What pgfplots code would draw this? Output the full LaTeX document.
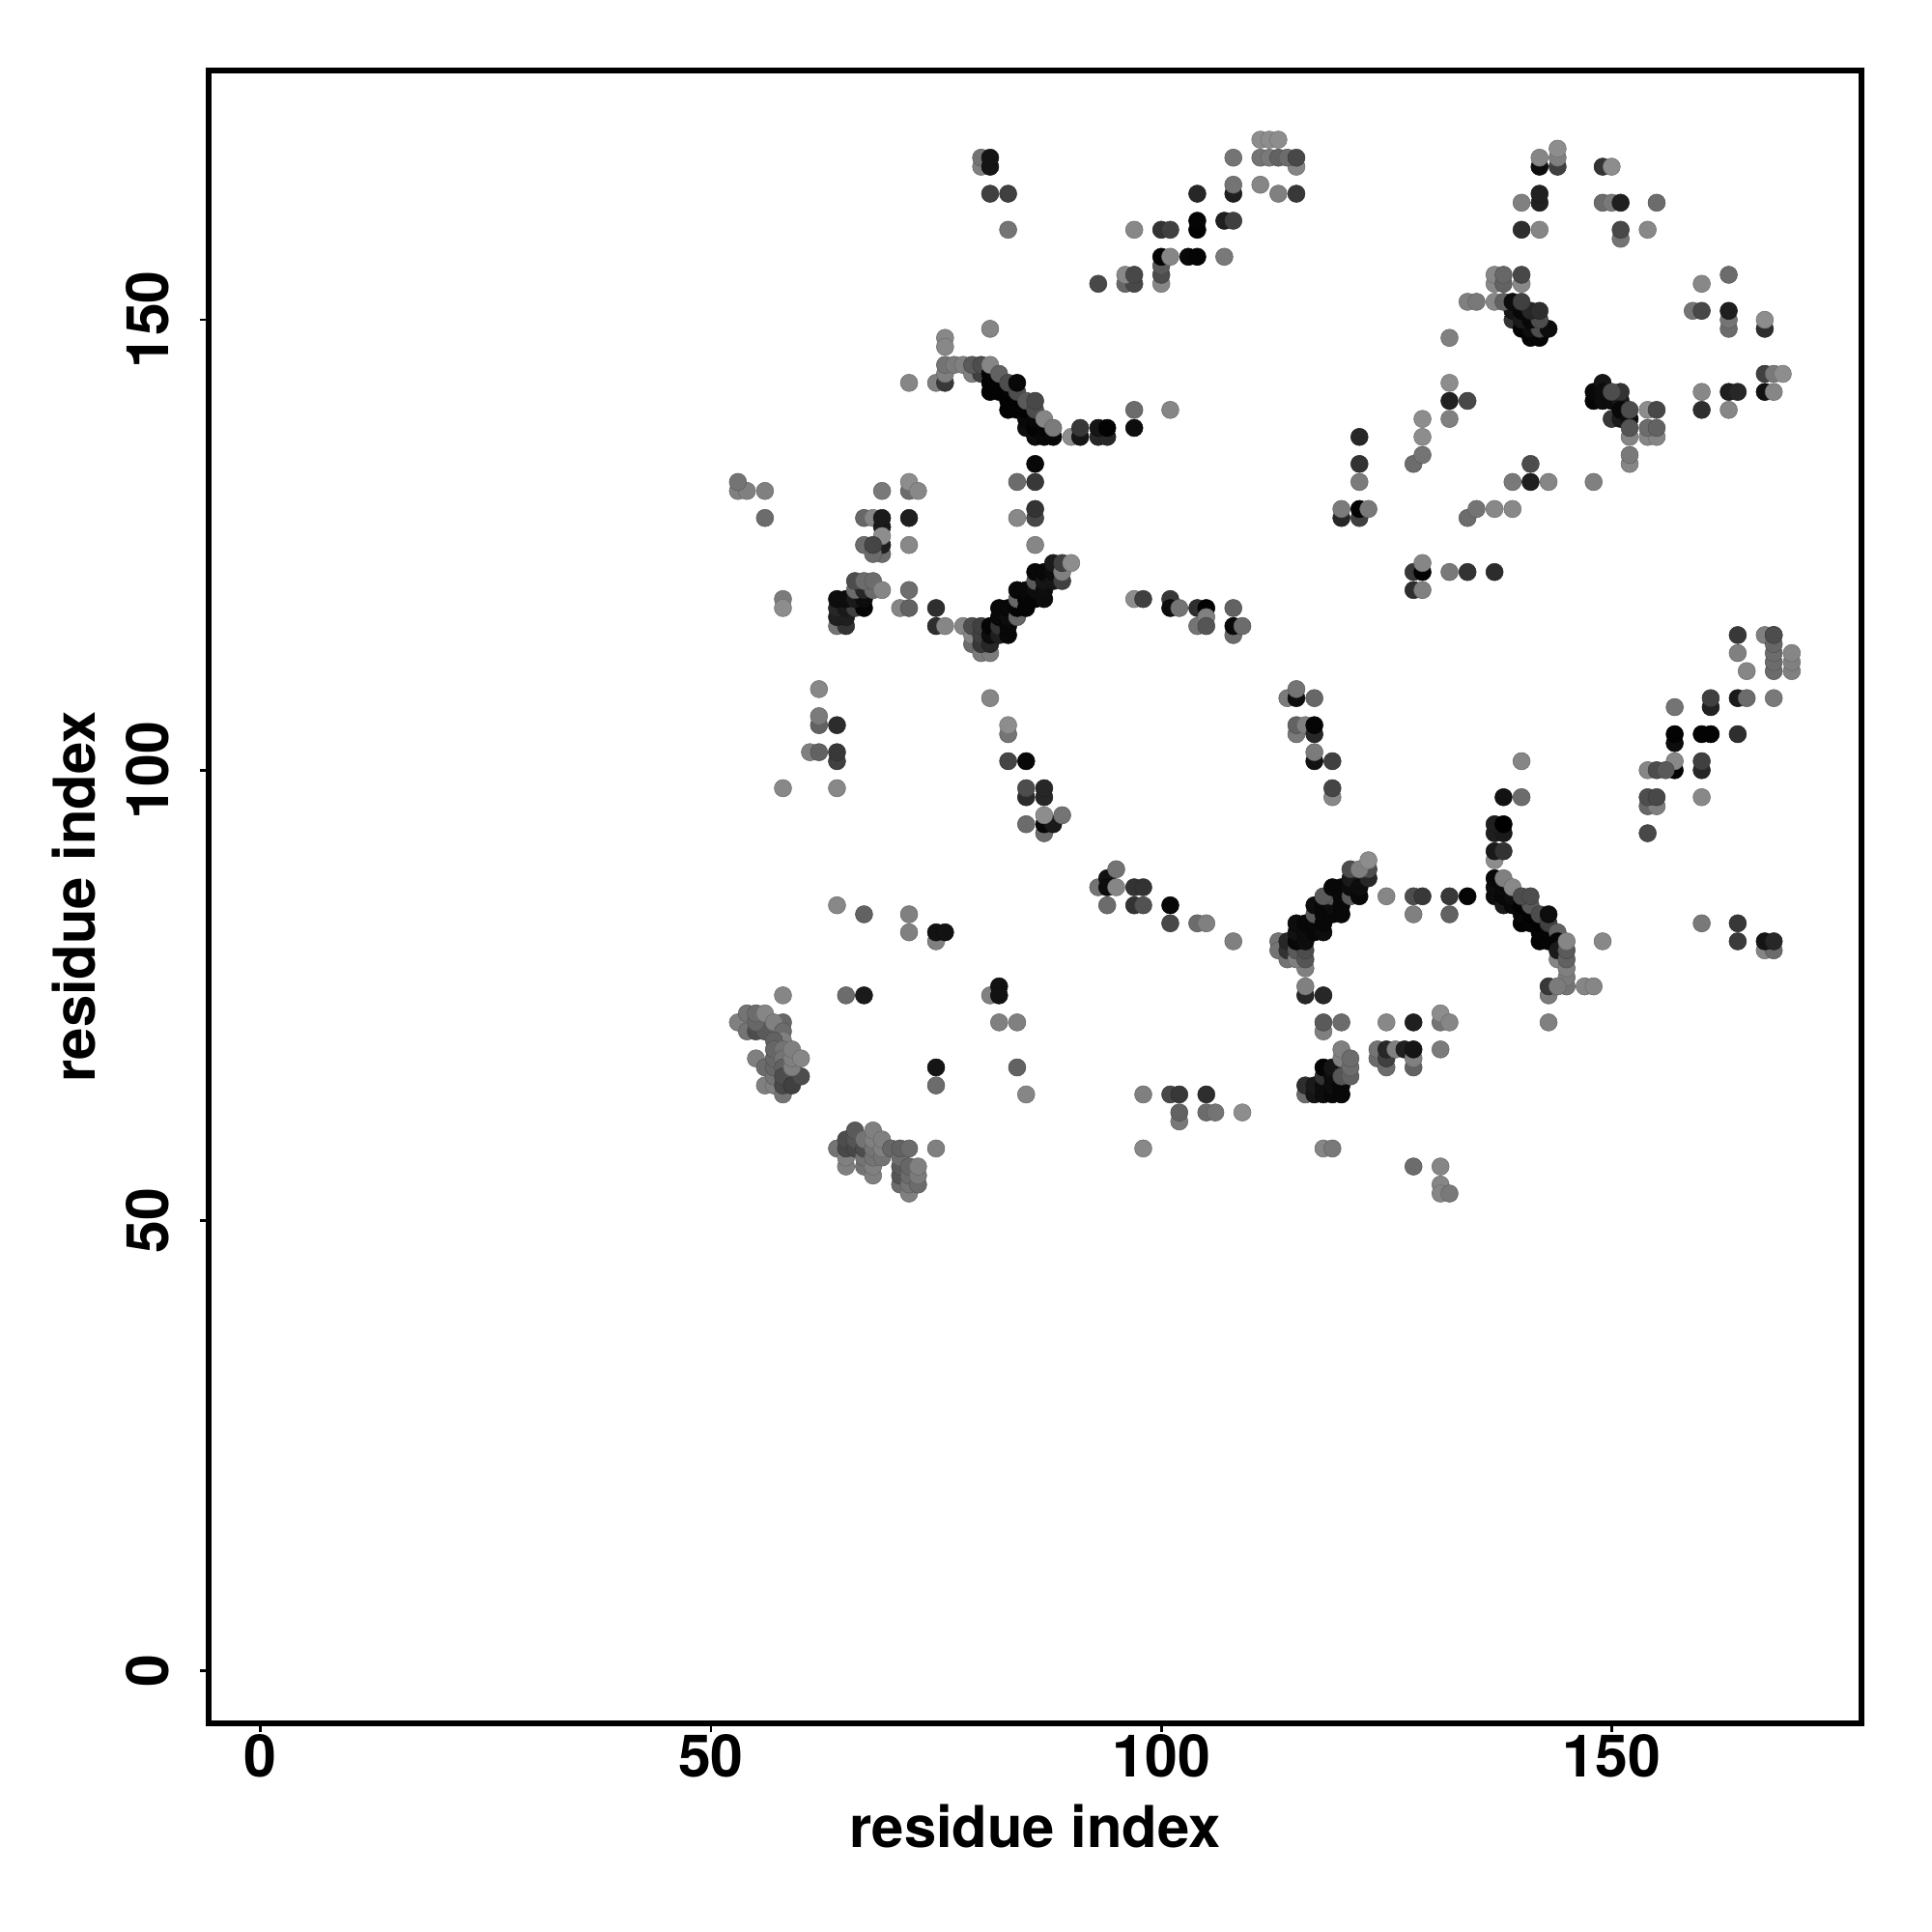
\documentclass[border=0pt]{standalone}
\usepackage{fontspec}
\setmainfont{TeX Gyre Heros}
\usepackage{pgfplots}
\pgfplotsset{compat=1.18}
\begin{document}
\begin{tikzpicture}[x=1cm,y=1cm]
\path[use as bounding box] (0,0) rectangle (20,20);
\begin{axis}[
  at={(2.16cm,2.16cm)},anchor=south west,
  width=17.11cm,height=17.11cm,scale only axis,
  xmin=-5.76,xmax=177.74,ymin=-5.82,ymax=177.68,
  xtick={0,50,100,150},ytick={0,50,100,150},
  axis line style={line width=1.65pt},
  tick style={line width=0.8pt,black},
  tick align=outside,major tick length=2.7pt,
  xtick pos=bottom,ytick pos=left,
  /pgf/number format/assume math mode=true,
  tick label style={font=\bfseries\fontsize{17.3}{20}\selectfont},
  yticklabel style={rotate=90,anchor=south,yshift=5.4pt},
  xticklabel style={anchor=north,yshift=3.1pt},
  xlabel={\bfseries\fontsize{17}{20}\selectfont residue index},
  ylabel={\bfseries\fontsize{17}{20}\selectfont residue index},
  xlabel style={at={(axis description cs:0.5,0)},anchor=base,yshift=-36.5pt},
  ylabel style={at={(axis description cs:0,0.5)},anchor=base,rotate=0,yshift=33.4pt},
  colormap={bw}{gray(0cm)=(0); gray(1cm)=(1)},
  point meta min=0,point meta max=1,
  clip=true,
]
\addplot[scatter,only marks,mark=*,mark size=2.55pt,line width=0.15pt,point meta=explicit] coordinates {
% lower left singles
(64,85)[.53](67,84)[.38](72,84)[.5](72,82)[.5](75,81)[.5](75,82)[.07](76,82)[.07]
(58,75)[.52](65,75)[.42](67,75)[.1](81,75)[.5](82,76)[.07](82,75)[.07](82,72)[.5](84,72)[.5]
(75,67)[.08](75,65)[.42](84,67)[.38](85,64)[.52]
% cluster 1
(53,72)[.5](54,71)[.45](55,71)[.3](56,71)[.35](54,73)[.45](55,72)[.4](55,73)[.42](56,73)[.52]
(58,72)[.4](57,72)[.5](58,71)[.42](58,70)[.5](57,70)[.38]
(55,68)[.5](56,67)[.42](56,65)[.5](57,65)[.5](57,66)[.45](57,67)[.4](57,68)[.4](57,69)[.4]
(58,69)[.45](58,68)[.45](58,67)[.38](58,64)[.45](58,65)[.28](58,66)[.3]
(59,65)[.25](60,66)[.3](59,67)[.5](59,68)[.5](59,69)[.5](60,68)[.52]
% cluster 2
(64,58)[.45](65,56)[.5](65,57)[.5](65,58)[.28](65,59)[.3](66,58)[.28](66,59)[.33](66,60)[.35]
(67,56)[.45](67,57)[.45](67,58)[.3](67,59)[.45](68,55)[.5](68,56)[.5](68,57)[.45](68,58)[.45](68,59)[.5](68,60)[.5]
(69,57)[.45](69,58)[.5](69,59)[.5](70,58)[.4](71,54)[.42](71,55)[.33](71,56)[.35](71,57)[.42](71,58)[.38](72,58)[.42]
(72,53)[.5](72,54)[.45](72,55)[.42](72,56)[.4](73,54)[.42](73,55)[.48](73,56)[.5](75,58)[.5]
% lower middle
(93,87)[.45](94,88)[.07](94,87)[.05](95,89)[.45](95,87)[.52](97,87)[.2](98,87)[.2](94,85)[.42](97,85)[.2](98,85)[.32]
(101,85)[.03](101,83)[.28](104,83)[.42](105,83)[.5](108,81)[.5]
(113,81)[.45](113,80)[.45](114,79)[.45](114,80)[.2](114,81)[.15](116,78)[.5](115,79)[.5](115,80)[.35](116,79)[.33](116,80)[.3]
(115,81)[.03](115,82)[.07](115,83)[.05](116,81)[.05](116,82)[.05](116,83)[.03]
(117,82)[.03](117,83)[.03](117,84)[.35](117,85)[.05](118,82)[.05](118,83)[.03](118,84)[.03](118,85)[.03]
(119,84)[.03](119,85)[.05](119,86)[.35](118,86)[.35](119,87)[.03](120,84)[.03](120,85)[.03](120,87)[.03](120,86)[.03]
(121,86)[.35](121,87)[.05](121,88)[.1](122,86)[.03](122,87)[.05](123,88)[.15](121,89)[.3](123,89)[.3](122,89)[.5](123,90)[.55]
(116,75)[.15](116,76)[.5](118,75)[.15]
(125,86)[.52](128,86)[.3](129,86)[.22](132,86)[.22](134,86)[.02](128,84)[.5](132,84)[.38]
(118,71)[.5](118,72)[.35](120,72)[.42](125,72)[.53](128,72)[.12](131,72)[.45](131,73)[.55](132,72)[.52](131,69)[.48]
(124,68)[.42](124,69)[.45](125,67)[.42](125,68)[.25](125,69)[.15](126,69)[.5](127,69)[.12](128,67)[.38](128,68)[.5](128,69)[.08]
(116,64)[.42](116,65)[.18](117,64)[.08](117,65)[.1](118,64)[.05](118,65)[.05](118,66)[.2](118,67)[.02]
(119,64)[.03](119,65)[.05](119,66)[.05](119,67)[.08](120,64)[.03](120,65)[.03](120,66)[.33](120,68)[.5](120,69)[.5](121,66)[.38](121,67)[.42](121,68)[.42]
(98,64)[.5](101,64)[.28](102,64)[.22](105,64)[.18](102,61)[.47](102,62)[.38](105,62)[.42](106,62)[.45](109,62)[.55]
(98,58)[.53](118,58)[.52](119,58)[.47](128,56)[.42](131,56)[.52](131,54)[.52](131,53)[.52](132,53)[.47]
% right lower
(164,115)[.22](167,115)[.5](168,115)[.3](164,113)[.5](165,111)[.52](168,111)[.42](168,112)[.42](168,113)[.42](168,114)[.4](168,115)[.3]
(170,111)[.5](170,112)[.5](170,113)[.52]
(157,107)[.45](161,107)[.13](161,108)[.25](164,108)[.1](165,108)[.42](168,108)[.47]
(157,103)[.05](157,104)[.01](160,104)[.01](161,104)[.01](164,104)[.18](157,100)[.01](157,101)[.53](160,100)[.15](160,101)[.25]
(154,100)[.52](155,100)[.3](156,100)[.35](160,97)[.53](154,96)[.4](155,96)[.5](154,97)[.3](155,97)[.28](154,93)[.28]
(138,97)[.07](140,97)[.42](140,101)[.52]
(137,93)[.12](138,93)[.1](137,94)[.12](138,94)[0](137,90)[.55](137,91)[.1](138,91)[.2]
(137,86)[.05](137,87)[.05](137,88)[.03](138,85)[.1](138,86)[.03](138,87)[.04](139,85)[.03](139,86)[.05](138,88)[.5](139,87)[.53]
(140,83)[.01](140,84)[.03](140,85)[.01](141,83)[.02](141,84)[.01](141,85)[.35](140,86)[.3](141,86)[.3]
(142,81)[.01](142,82)[.02](142,83)[.01](143,81)[.02](143,82)[.02](142,84)[.3](143,83)[.25](143,84)[.05]
(144,82)[.38](144,81)[.02](144,79)[.52](144,80)[.1](145,76)[.45](145,77)[.48](145,78)[.5](145,79)[.38](145,80)[.35](145,81)[.52]
(143,75)[.48](143,76)[.22](144,76)[.48](147,76)[.52](148,76)[.52](143,72)[.5](149,81)[.53]
(160,83)[.47](164,83)[.22](164,81)[.23](167,80)[.52](168,80)[.42](167,81)[.08](168,81)[.15]
% upper left
(81,149)[.52](76,148)[.53](76,147)[.53](72,143)[.52](75,143)[.5](76,143)[.22]
(76,144)[.5](76,145)[.45](77,145)[.48](78,145)[.5](79,144)[.5](80,144)[.25](79,145)[.35](80,145)[.3]
(81,142)[.01](81,143)[.01](81,144)[.02](82,142)[.01](82,143)[.01](83,140)[.01](83,141)[.01](83,142)[.01]
(84,140)[.01](84,141)[.01](85,138)[.05](85,139)[.03](85,140)[.01](86,137)[.05](86,138)[.01](86,139)[.03](87,137)[.03](87,138)[.02](88,137)[.03]
(81,145)[.52](82,144)[.38](83,143)[.3](84,142)[.3](84,143)[.03](85,141)[.35](86,140)[.3](86,141)[.28](87,139)[.52](88,138)[.48]
(90,137)[.55](91,137)[.08](91,138)[.22](93,137)[.15](94,137)[.15](93,138)[.08](94,138)[.01](97,138)[.05](97,140)[.42](101,140)[.52]
(53,131)[.5](54,131)[.5](53,132)[.45](56,131)[.5](56,128)[.42](69,131)[.47](72,131)[.42](72,132)[.55](73,131)[.53]
(67,128)[.4](68,128)[.52](69,127)[.1](69,128)[.1](72,128)[.12](69,124)[.42](69,125)[.12](69,126)[.55](72,125)[.53]
(67,125)[.42](68,124)[.42](68,125)[.27]
(86,134)[.03](84,132)[.42](86,132)[.22](84,128)[.53](86,128)[.28](86,129)[.2](86,125)[.52]
(58,119)[.48](58,118)[.55](75,118)[.18](75,116)[.18](76,116)[.52](71,118)[.52](72,118)[.38](72,120)[.43]
(64,116)[.45](65,116)[.2](64,117)[.12](65,117)[.12](64,118)[.15](65,118)[.1](66,118)[.25](67,118)[.02]
(64,119)[.05](65,119)[.05](66,119)[.1](67,119)[.05](66,120)[.42](67,120)[.15](68,120)[.42](66,121)[.3](67,121)[.42](68,121)[.42](69,120)[.52]
(78,116)[.52](79,114)[.42](79,115)[.52](79,116)[.3](80,113)[.48](81,113)[.48](80,114)[.22](80,115)[.25](80,116)[.25]
(81,114)[.15](81,115)[.05](81,116)[.02](82,115)[.12](82,116)[.2](82,117)[.03](82,118)[.03]
(83,115)[.03](83,116)[.03](83,117)[.05](83,118)[.03](84,117)[.4](84,118)[.02](84,119)[.4](84,120)[.03]
(85,118)[.02](85,119)[.02](85,120)[.03](86,119)[.02](86,120)[.05](86,121)[.35](86,122)[.03]
(87,119)[.05](87,120)[.05](87,121)[.08](87,122)[.03](88,121)[.08](88,122)[.05](88,123)[.1](89,121)[.25](89,122)[.5](89,123)[.25](90,123)[.55]
(62,109)[.53](62,105)[.38](62,106)[.48](64,105)[.17](61,102)[.5](62,102)[.38](64,101)[.25](64,102)[.22](58,98)[.53](64,98)[.53]
(81,108)[.52](83,104)[.45](83,105)[.55](83,101)[.27](85,101)[.03](85,97)[.17](85,98)[.3](87,97)[.15](87,98)[.15]
(85,94)[.42](87,93)[.42](87,94)[.03](88,94)[.1](87,95)[.55](89,95)[.45]
% middle
(97,119)[.55](98,119)[.25](101,119)[.22](101,118)[.05](102,118)[.45](104,118)[.18](105,118)[.01](108,118)[.38]
(104,116)[.45](105,117)[.5](105,116)[.33](108,115)[.42](108,116)[.03](109,116)[.42]
(114,108)[.48](115,108)[.05](115,109)[.45](117,108)[.4](115,104)[.47](115,105)[.38](116,105)[.5](117,104)[.15](117,105)[.02]
(117,101)[.07](117,102)[.48](119,101)[.25](119,97)[.53](119,98)[.27]
(122,137)[.15](122,134)[.2](122,132)[.48](120,128)[.15](120,129)[.48](122,128)[.25](122,129)[.01](123,129)[.47]
(129,139)[.55](129,137)[.55](128,134)[.42](129,135)[.45](132,148)[.5](132,143)[.55](132,141)[.13](134,141)[.28](132,139)[.5]
(134,128)[.42](135,129)[.45](137,129)[.53](139,129)[.53](141,134)[.3](139,132)[.47](141,132)[.12](143,132)[.52](148,132)[.5]
(128,122)[.22](129,122)[.01](129,123)[.52](132,122)[.47](134,122)[.2](137,122)[.17](128,120)[.18](129,120)[.5]
% upper right
(139,150)[.2](140,149)[.01](141,148)[.02](142,148)[.02](141,149)[.05](142,149)[.3](143,149)[.05]
(139,151)[.08](140,150)[.1](141,150)[.03](142,150)[.3](140,151)[.03](141,151)[.15](142,151)[.18]
(137,152)[.53](134,152)[.5](135,152)[.47](138,152)[.38](139,152)[.05](140,152)[.25]
(137,154)[.53](137,155)[.53](138,154)[.38](138,155)[.4](140,154)[.53](140,155)[.28]
(148,141)[.02](148,142)[.03](149,143)[.08](149,142)[.05](149,141)[.05](150,141)[.05](150,139)[.22](151,139)[.1](151,141)[.1](151,142)[.2](150,142)[.3]
(151,140)[.03](152,139)[.05](152,137)[.52](152,138)[.33](152,140)[.3](154,137)[.52](155,137)[.52](154,138)[.42](155,138)[.38](154,140)[.55](155,140)[.28]
(152,134)[.52](152,135)[.47]
(160,142)[.53](160,140)[.18](163,142)[.12](164,142)[.15](163,140)[.52](167,144)[.25](168,144)[.47](169,144)[.55](167,142)[.07](168,142)[.52]
(167,149)[.18](167,150)[.55](163,149)[.42](163,150)[.45](163,151)[.12](159,151)[.45](160,151)[.28](160,154)[.53](163,155)[.42]
(142,167)[.05](142,168)[.52](144,167)[.25](144,168)[.5](144,169)[.55](149,167)[.2](150,167)[.55]
(140,163)[.5](142,163)[.13](142,164)[.13](149,163)[.42](150,163)[.47](151,163)[.12](155,163)[.42]
(140,160)[.18](142,160)[.52](151,159)[.45](151,160)[.28](154,160)[.53]
% top
(80,167)[.5](80,168)[.45](81,167)[.08](81,168)[.08](81,164)[.25](83,164)[.25](83,160)[.45]
(111,170)[.55](112,170)[.55](113,170)[.55](115,167)[.52](111,168)[.45](112,168)[.47](113,168)[.38](114,168)[.42](115,168)[.28](108,168)[.45]
(108,164)[.12](108,165)[.45](111,165)[.52](113,164)[.5](115,164)[.22](104,164)[.15]
(104,160)[.01](104,161)[.02](107,161)[.12](108,161)[.25](97,160)[.53](100,160)[.2](101,160)[.25]
(100,154)[.52](100,155)[.3](100,156)[.35](100,157)[.01](101,157)[.52](103,157)[.03](104,157)[.02](107,157)[.47]
(96,154)[.4](97,154)[.28](96,155)[.53](97,155)[.28](93,154)[.28]
};
\end{axis}
\end{tikzpicture}
\end{document}
